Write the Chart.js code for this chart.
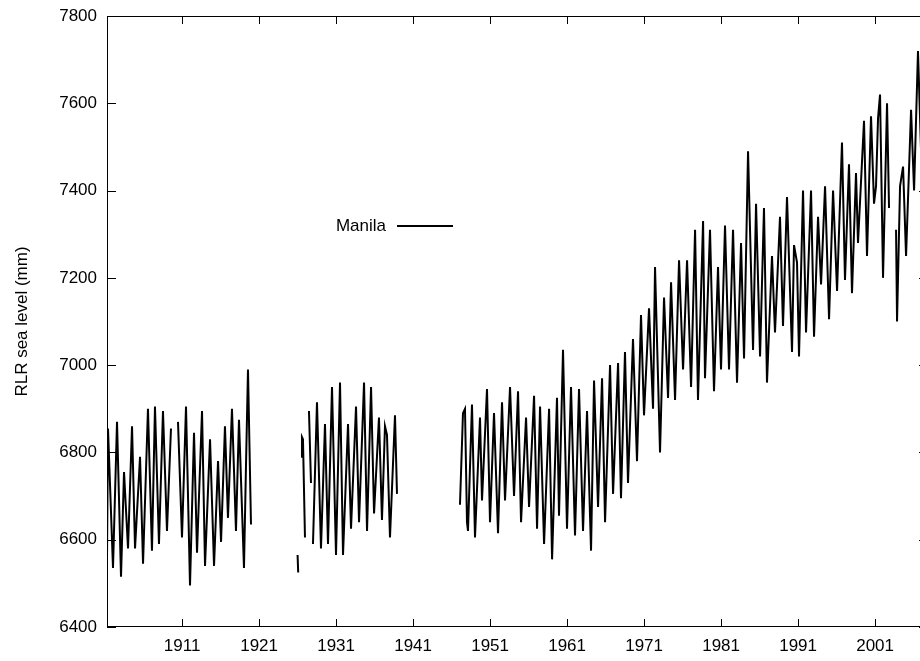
<!DOCTYPE html>
<html>
<head>
<meta charset="utf-8">
<script src="https://cdn.jsdelivr.net/npm/chart.js@4"></script>
<style>
  html, body { margin: 0; padding: 0; background: #fff; overflow: hidden; }
  #wrap { width: 920px; height: 661px; overflow: hidden; }
</style>
</head>
<body>
<div id="wrap"><canvas id="seaChart" width="936" height="661"></canvas></div>
<script>
// Manila monthly RLR sea level (peaks and troughs), null = gap
const years = [
  1901.25, 1901.38, 1902.03, 1902.55, 1903.07, 1903.46, 1903.98, 1904.50, 1904.89, 1905.54,
  1905.93, 1906.57, 1907.09, 1907.48, 1908.00, 1908.52, 1909.04, 1909.56, 1910.00,
  1910.47, 1910.99, 1911.51, 1912.03, 1912.55, 1912.94, 1913.59, 1913.98, 1914.63, 1915.15,
  1915.67, 1916.06, 1916.57, 1916.96, 1917.48, 1918.00, 1918.39, 1919.04, 1919.30, 1919.56,
  1919.95, 1923.00,
  1926.00, 1926.08, 1926.25,
  1926.45, 1926.57, 1926.70, 1926.96, 1927.20,
  1927.48, 1927.74, 1927.87,
  1928.00, 1928.52, 1929.04, 1929.56, 1929.95, 1930.47, 1930.99, 1931.51, 1931.90, 1932.55,
  1932.94, 1933.59, 1933.98, 1934.63, 1935.02, 1935.54, 1935.93, 1936.57, 1936.96, 1937.35,
  1937.61, 1938.00, 1938.65, 1938.91, 1943.00,
  1947.09, 1947.48, 1947.74, 1948.00, 1948.13, 1948.65, 1949.04, 1949.69, 1949.95, 1950.60,
  1950.99, 1951.51, 1952.03, 1952.55, 1952.94, 1953.59, 1954.11, 1954.63, 1955.02, 1955.67,
  1956.06, 1956.71, 1957.10, 1957.49, 1958.01, 1958.66, 1959.05, 1959.69, 1959.95, 1960.47,
  1960.99, 1961.51, 1962.03, 1962.55, 1963.07, 1963.59, 1964.11, 1964.50, 1965.02, 1965.54,
  1965.93, 1966.58, 1966.97, 1967.62, 1968.00, 1968.52, 1968.91, 1969.56, 1970.08, 1970.60,
  1970.99, 1971.64, 1972.16, 1972.42, 1973.07, 1973.59, 1974.11, 1974.50, 1975.02, 1975.54,
  1976.06, 1976.58, 1977.10, 1977.62, 1978.00, 1978.66, 1978.91, 1979.56, 1980.08, 1980.60,
  1980.99, 1981.51, 1982.03, 1982.55, 1983.07, 1983.59, 1983.98, 1984.50, 1985.15, 1985.54,
  1986.06, 1986.57, 1986.96, 1987.61, 1988.00, 1988.65, 1989.04, 1989.56, 1990.21, 1990.47,
  1990.86, 1991.12, 1991.64, 1992.03, 1992.68, 1993.07, 1993.59, 1993.98, 1994.50, 1995.02,
  1995.54, 1996.06, 1996.70, 1997.09, 1997.61, 1998.00, 1998.52, 1998.78, 1999.56, 1999.95,
  2000.47, 2000.86, 2001.12, 2001.38, 2001.64, 2002.03, 2002.55, 2002.81, 2003.30,
  2003.72, 2003.85, 2004.24, 2004.63, 2005.02, 2005.67, 2006.06, 2006.57, 2007.09
];
const levels = [
  6555, 6855, 6535, 6870, 6515, 6755, 6580, 6860, 6580, 6790,
  6545, 6900, 6575, 6905, 6590, 6895, 6620, 6855, null,
  6870, 6605, 6905, 6495, 6845, 6570, 6895, 6540, 6830, 6540,
  6780, 6595, 6860, 6650, 6900, 6620, 6875, 6535, 6770, 6990,
  6635, null,
  6565, 6525, null,
  6790, 6835, 6830, 6605, null,
  6895, 6730, null,
  6590, 6915, 6580, 6865, 6590, 6950, 6565, 6960, 6565, 6865,
  6625, 6905, 6640, 6960, 6620, 6950, 6660, 6880, 6645, 6860,
  6840, 6605, 6885, 6705, null,
  6680, 6890, 6900, 6640, 6620, 6910, 6605, 6880, 6690, 6945,
  6640, 6890, 6615, 6915, 6690, 6950, 6700, 6940, 6640, 6880,
  6675, 6930, 6625, 6905, 6590, 6900, 6555, 6925, 6655, 7035,
  6625, 6950, 6610, 6945, 6620, 6895, 6575, 6965, 6675, 6970,
  6640, 7000, 6705, 7005, 6695, 7030, 6730, 7060, 6780, 7115,
  6885, 7130, 6900, 7225, 6800, 7155, 6925, 7190, 6920, 7240,
  6990, 7240, 6950, 7310, 6920, 7330, 6970, 7310, 6940, 7225,
  6990, 7320, 6990, 7310, 6960, 7280, 7015, 7490, 7035, 7370,
  7020, 7360, 6960, 7250, 7075, 7340, 7090, 7385, 7030, 7275,
  7235, 7020, 7400, 7075, 7400, 7065, 7340, 7185, 7410, 7105,
  7400, 7170, 7510, 7195, 7460, 7165, 7440, 7280, 7560, 7250,
  7570, 7370, 7410, 7565, 7620, 7200, 7600, 7360, null,
  7310, 7100, 7410, 7455, 7250, 7585, 7400, 7720, 7420
];
const xTicks = [1911, 1921, 1931, 1941, 1951, 1961, 1971, 1981, 1991, 2001];
const yMin = 6400, yMax = 7800, yStep = 200;
const seriesName = "Manila";

const FONT = { family: "'Liberation Sans', Arial, sans-serif", size: 17 };

const framePlugin = {
  id: "frame",
  afterDraw(chart) {
    const { ctx, chartArea: a, scales: { x, y } } = chart;
    ctx.save();
    ctx.strokeStyle = "#000";
    ctx.lineWidth = 1;
    ctx.beginPath();
    x.ticks.forEach(t => {
      const px = Math.round(x.getPixelForValue(t.value)) + 0.5;
      ctx.moveTo(px, a.bottom); ctx.lineTo(px, a.bottom - 8);
      ctx.moveTo(px, a.top); ctx.lineTo(px, a.top + 8);
    });
    y.ticks.forEach(t => {
      const py = Math.round(y.getPixelForValue(t.value)) + 0.5;
      ctx.moveTo(a.left, py); ctx.lineTo(a.left + 9, py);
      ctx.moveTo(a.right, py); ctx.lineTo(a.right - 9, py);
    });
    ctx.stroke();
    ctx.strokeRect(Math.round(a.left) + 0.5, Math.round(a.top) + 0.5,
      Math.round(a.right - a.left) - 1, Math.round(a.bottom - a.top) - 1);

    // key, inside the plot
    const ds = chart.data.datasets[0];
    ctx.font = FONT.size + "px " + FONT.family;
    ctx.fillStyle = "#000";
    ctx.textAlign = "right";
    ctx.textBaseline = "middle";
    ctx.fillText(ds.label, 386, 226);
    ctx.strokeStyle = ds.borderColor;
    ctx.lineWidth = ds.borderWidth;
    ctx.beginPath();
    ctx.moveTo(397, 226); ctx.lineTo(453, 226);
    ctx.stroke();
    ctx.restore();
  }
};

new Chart(document.getElementById("seaChart"), {
  type: "line",
  data: {
    datasets: [{
      label: seriesName,
      data: years.map((yr, i) => ({ x: yr, y: levels[i] })),
      borderColor: "#000",
      borderWidth: 2,
      pointRadius: 0,
      tension: 0,
      spanGaps: false
    }]
  },
  options: {
    responsive: false,
    animation: false,
    layout: { padding: { top: 16, right: 8, left: 0, bottom: 0 } },
    plugins: { legend: { display: false }, tooltip: { enabled: false } },
    scales: {
      x: {
        type: "linear",
        min: 1901.25,
        max: 2007.87,
        grid: { display: false, drawTicks: false },
        border: { display: false },
        afterBuildTicks: s => { s.ticks = xTicks.map(v => ({ value: v })); },
        afterFit: s => { s.height = 34; s.paddingLeft = 0; s.paddingRight = 0; },
        ticks: {
          autoSkip: false, maxRotation: 0, padding: 9, color: "#000", font: FONT,
          callback: v => String(v)
        }
      },
      y: {
        min: yMin,
        max: yMax,
        grid: { display: false, drawTicks: false },
        border: { display: false },
        afterFit: s => { s.width = 107; s.paddingTop = 0; s.paddingBottom = 0; },
        ticks: {
          stepSize: yStep, padding: 10, color: "#000", font: FONT,
          callback: v => String(v)
        },
        title: {
          display: true, text: "RLR sea level (mm)", color: "#000", font: FONT,
          padding: { top: 12, bottom: 0 }
        }
      }
    }
  },
  plugins: [framePlugin]
});
</script>
</body>
</html>
